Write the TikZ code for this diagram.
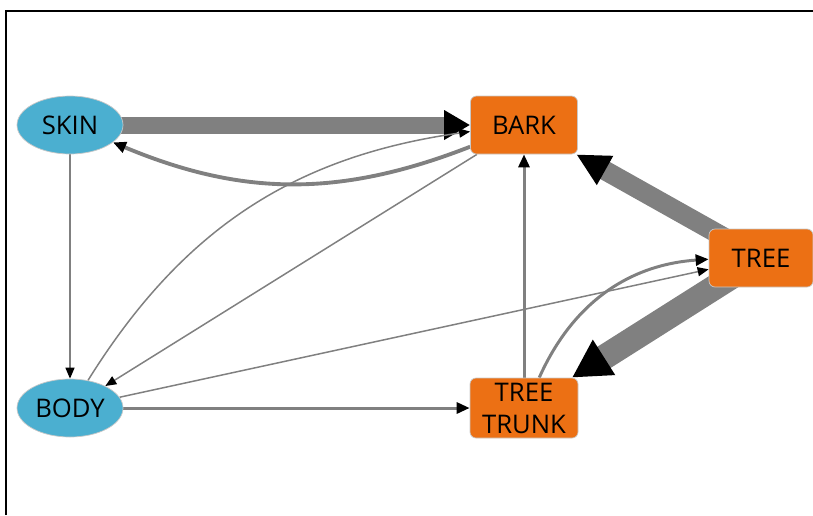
\documentclass[tikz,border=0pt]{standalone}
\usepackage{fontspec}
\setmainfont{Open Sans}
\usetikzlibrary{shapes.geometric, arrows.meta, positioning, backgrounds}
\definecolor{nodeblue}{RGB}{75,175,208}
\definecolor{nodeorange}{RGB}{236,112,20}
\definecolor{edgegray}{RGB}{128,128,128}
\definecolor{bordergray}{RGB}{200,200,200}
\tikzstyle{oval} = [ellipse, draw=bordergray, fill=nodeblue, minimum width=2.12cm, minimum height=1.16cm, inner sep=0pt]
\tikzstyle{block} = [rectangle, rounded corners=0.12cm, draw=bordergray, fill=nodeorange, minimum width=2.14cm, minimum height=1.16cm, inner sep=0pt, align=center]
\tikzstyle{arrow} = [edgegray, line width=0.85pt, -{Triangle[length=0.22cm, width=0.18cm, color=black]}]
\tikzstyle{midarrow} = [edgegray, line width=1.7pt, -{Triangle[length=0.26cm, width=0.22cm, color=black]}]
\tikzstyle{heavy} = [edgegray, line cap=butt]

\begin{document}
\begin{tikzpicture}[node distance=2cm, font=\fontsize{14.6}{18.2}\selectfont]
    \useasboundingbox (0,0) rectangle (16.26,-10.30);

    % frame
    \draw [line width=1.2pt] (0.12,-10.30) -- (0.12,-0.22) -- (16.26,-0.22);

    % Nodes
    \node (skin) [oval] at (1.40,-2.50) {SKIN};
    \node (body) [oval, below of=skin, yshift=-3.66cm] {BODY};

    \node (bark) [block, right of=skin, xshift=7.08cm] {BARK};
    \node (trunk) [block, below of=bark, yshift=-3.66cm, minimum width=2.16cm, minimum height=1.2cm] {TREE\\TRUNK};
    \node (tree) [block, right of=bark, xshift=2.74cm, yshift=-2.66cm, minimum width=2.08cm] {TREE};

    % ==== Arrows
    \begin{scope}[on background layer]
    % heavy
    \draw [heavy, line width=0.34cm, -{Triangle[length=0.52cm, width=0.56cm, color=black]}] (skin.center) -- (bark);
    \draw [heavy, line width=0.39cm, -{Triangle[length=0.66cm, width=0.62cm, color=black]}] (tree.center) -- (bark);
    \draw [heavy, line width=0.50cm, -{Triangle[length=0.76cm, width=0.78cm, color=black]}] (tree.center) -- (trunk);

    % medium
    \draw [midarrow, line width=2.2pt] (bark) to[bend left=22] (skin);
    \draw [midarrow] (body) -- (trunk);
    \draw [midarrow] (trunk) -- (bark);
    \draw [midarrow] (trunk) to[bend left=31] (tree);

    % thin
    \draw [arrow] (skin) -- (body);
    \draw [arrow] (body) to[bend left=25] (bark);
    \draw [arrow] (bark) -- (body);
    \draw [arrow] (body) -- (tree);
    \end{scope}

\end{tikzpicture}
\end{document}
